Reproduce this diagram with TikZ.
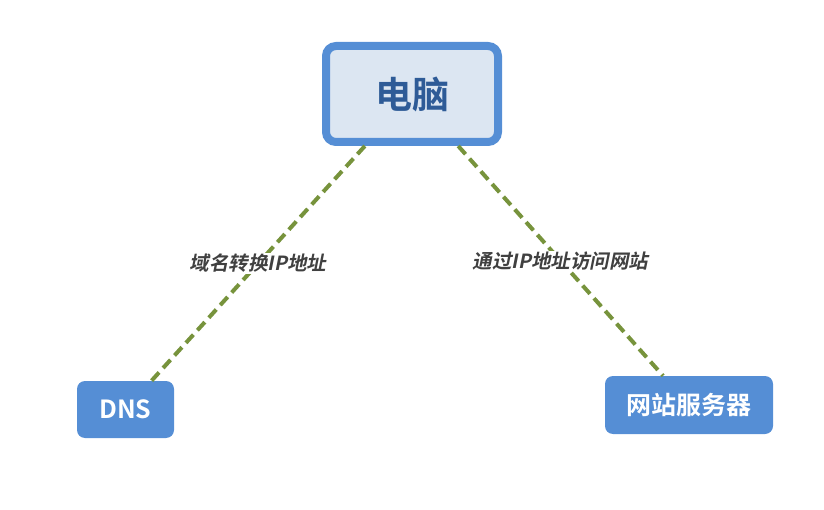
\documentclass[tikz,border=0pt]{standalone}
\usepackage{fontspec}
\newfontfamily\cjkb{Noto Sans CJK SC Bold}[FakeSlant=0.2]
\newfontfamily\cjkbold{Noto Sans CJK SC Bold}
\definecolor{boxblue}{HTML}{558ED5}
\definecolor{lightfill}{HTML}{DCE6F2}
\definecolor{darktext}{HTML}{2E5B97}
\definecolor{linegreen}{HTML}{77933C}
\definecolor{labelgray}{HTML}{404040}
\begin{document}
\begin{tikzpicture}[x=1pt,y=-1pt,
  pcbox/.style={draw=boxblue,fill=lightfill,line width=8pt,rounded corners=10pt,
    minimum width=172pt,minimum height=96pt,inner sep=0pt,
    font=\cjkbold\fontsize{37}{40}\selectfont,text=darktext},
  bluebox/.style={fill=boxblue,rounded corners=8pt,inner sep=0pt,
    font=\cjkbold\fontsize{25}{28}\selectfont,text=white},
  link/.style={draw=linegreen,line width=4pt,dash pattern=on 11pt off 6pt},
  lbl/.style={fill=white,inner sep=1pt,font=\cjkb\fontsize{19.5}{22}\selectfont,text=labelgray}
]
\useasboundingbox (0,0) rectangle (824,510);
\node[pcbox] (pc) at (412,94) {电脑};
\node[bluebox,minimum width=97pt,minimum height=57pt] (dns) at (125.5,409.5) {DNS};
\node[bluebox,minimum width=168pt,minimum height=58pt] (web) at (689,405) {网站服务器};
\path[link] (pc) -- node[lbl,pos=0.5] {域名转换IP地址} (dns);
\path[link] (pc) -- node[lbl,pos=0.5] {通过IP地址访问网站} (web);
\end{tikzpicture}
\end{document}
